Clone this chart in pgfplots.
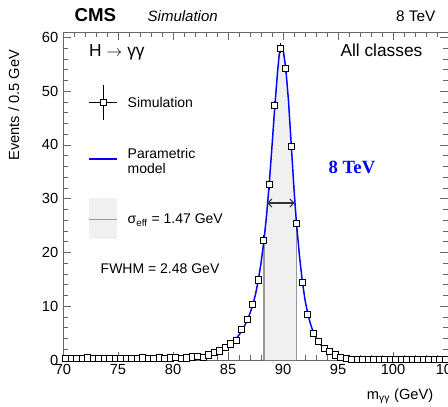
\documentclass[border=0pt]{standalone}
\usepackage{fontspec}
\setmainfont{Liberation Sans}
\newfontfamily\serifbf{Liberation Serif}
\usepackage{pgfplots}
\usepackage{pgfplotstable}
\pgfplotsset{compat=1.18}
\usetikzlibrary{arrows.meta}

% simulated events per 0.5 GeV bin
\pgfplotstableread{
x y ex ey
70.25 0.35 0.25 0.3
70.75 0.30 0.25 0.3
71.25 0.35 0.25 0.3
71.75 0.30 0.25 0.3
72.25 0.40 0.25 0.3
72.75 0.30 0.25 0.3
73.25 0.35 0.25 0.3
73.75 0.30 0.25 0.3
74.25 0.35 0.25 0.3
74.75 0.30 0.25 0.3
75.25 0.30 0.25 0.3
75.75 0.35 0.25 0.3
76.25 0.30 0.25 0.3
76.75 0.35 0.25 0.3
77.25 0.40 0.25 0.3
77.75 0.35 0.25 0.3
78.25 0.30 0.25 0.3
78.75 0.40 0.25 0.3
79.25 0.35 0.25 0.3
79.75 0.40 0.25 0.3
80.25 0.45 0.25 0.3
80.75 0.35 0.25 0.3
81.25 0.40 0.25 0.3
81.75 0.60 0.25 0.3
82.25 0.75 0.25 0.3
82.75 0.55 0.25 0.3
83.25 0.95 0.25 0.3
83.75 1.35 0.25 0.4
84.25 1.70 0.25 0.4
84.75 2.40 0.25 0.4
85.25 3.00 0.25 0.4
85.75 3.70 0.25 0.4
86.25 5.70 0.25 0.6
86.75 7.60 0.25 0.6
87.25 10.3 0.25 0.6
87.75 14.9 0.25 0.6
88.25 22.3 0.25 0.9
88.75 32.6 0.25 0.9
89.25 47.3 0.25 0.9
89.75 58.0 0.25 0.9
90.25 54.2 0.25 0.9
90.75 39.7 0.25 0.9
91.25 25.4 0.25 0.9
91.75 14.5 0.25 0.6
92.25 8.50 0.25 0.6
92.75 5.00 0.25 0.6
93.25 3.50 0.25 0.4
93.75 2.20 0.25 0.4
94.25 1.55 0.25 0.4
94.75 0.95 0.25 0.3
95.25 0.45 0.25 0.3
95.75 0.30 0.25 0.3
96.25 0.20 0.25 0.3
96.75 0.15 0.25 0.3
97.25 0.15 0.25 0.3
97.75 0.12 0.25 0.3
98.25 0.15 0.25 0.3
98.75 0.12 0.25 0.3
99.25 0.10 0.25 0.3
99.75 0.12 0.25 0.3
100.25 0.10 0.25 0.3
100.75 0.12 0.25 0.3
101.25 0.10 0.25 0.3
101.75 0.10 0.25 0.3
102.25 0.12 0.25 0.3
102.75 0.10 0.25 0.3
103.25 0.10 0.25 0.3
103.75 0.12 0.25 0.3
104.25 0.10 0.25 0.3
104.75 0.10 0.25 0.3
}\simdata

% parametric model
\pgfplotstableread{
x y
70 0.25
72 0.26
74 0.27
76 0.29
78 0.32
79 0.34
80 0.38
81 0.45
81.5 0.52
82 0.60
82.5 0.72
83 0.90
83.5 1.15
84 1.45
84.25 1.70
84.5 1.95
84.75 2.25
85 2.60
85.25 3.00
85.5 3.45
85.75 4.00
86 4.65
86.25 5.40
86.5 6.30
86.75 7.40
87 8.70
87.25 10.2
87.5 12.2
87.75 14.8
88 18.0
88.27 22.3
88.5 26.8
88.75 32.8
89 39.8
89.25 47.0
89.5 53.5
89.65 56.7
89.75 57.9
89.85 58.3
89.95 58.0
90.05 57.2
90.25 54.3
90.5 48.2
90.75 40.0
91 31.8
91.21 25.8
91.5 19.3
91.75 14.7
92 11.2
92.25 8.60
92.5 6.70
92.75 5.20
93 4.10
93.25 3.30
93.5 2.70
93.75 2.20
94 1.80
94.25 1.50
94.5 1.20
94.75 0.95
95 0.72
95.25 0.54
95.5 0.42
95.75 0.33
96 0.27
96.5 0.20
97 0.16
98 0.13
100 0.11
102 0.10
105 0.09
}\model

% sigma_eff window under the curve
\pgfplotstableread{
x y
88.27 0
88.27 22.3
88.5 26.8
88.75 32.8
89 39.8
89.25 47.0
89.5 53.5
89.65 56.7
89.75 57.9
89.85 58.3
89.95 58.0
90.05 57.2
90.25 54.3
90.5 48.2
90.75 40.0
91 31.8
91.21 25.8
91.21 0
}\band

\begin{document}
\begin{tikzpicture}
  \begin{axis}[
    name=ax,
    scale only axis,
    width=288.75pt, height=246pt,
    xmin=70, xmax=105,
    ymin=0, ymax=61,
    xtick={70,75,...,105},
    ytick={0,10,...,60},
    minor x tick num=4,
    minor y tick num=4,
    tick align=inside,
    major tick length=6pt,
    minor tick length=3.4pt,
    axis line style={black!60},
    every tick/.style={black!60},
    ticklabel style={font=\fontsize{11}{13}\selectfont},
    /pgf/number format/assume math mode=true,
    clip=false,
  ]
    % sigma_eff band
    \addplot[fill=black!6, draw=none] table {\band} \closedcycle;
    \addplot[black!40, thick] coordinates {(88.27,0) (88.27,22.3)};
    \addplot[black!40, thick] coordinates {(91.21,0) (91.21,25.8)};

    % simulation points
    \addplot[
      only marks, black,
      mark=square*, mark size=2.3pt,
      mark options={fill=white, draw=black, line width=0.5pt},
      error bars/.cd,
        x dir=both, x explicit,
        y dir=both, y explicit,
        error mark=none,
        error bar style={line width=0.5pt},
    ] table[x=x, y=y, x error=ex, y error=ey] {\simdata};

    % parametric model
    \addplot[blue, line width=1.1pt] table {\model};

    % FWHM arrow
    \draw[black!80, thick, {Straight Barb[length=3pt,width=6pt]}-{Straight Barb[length=3pt,width=6pt]}]
      (axis cs:88.55,29.2) -- (axis cs:91.05,29.2);

    % legend
    \addplot[
      only marks, black,
      mark=square*, mark size=2.3pt,
      mark options={fill=white, draw=black, line width=0.5pt},
      error bars/.cd,
        x dir=both, x fixed=1.27,
        y dir=both, y fixed=3.25,
        error mark=none,
        error bar style={line width=0.5pt},
    ] coordinates {(73.64,47.93)};
    \node[anchor=west, font=\fontsize{10.5}{12}\selectfont] at (axis cs:75.45,47.93) {Simulation};

    \draw[blue, line width=1.1pt] (axis cs:72.36,37.34) -- (axis cs:74.91,37.34);
    \node[anchor=west, align=left, font=\fontsize{10.5}{11.25}\selectfont] at (axis cs:75.45,37.0) {Parametric\\model};

    \fill[black!6] (axis cs:72.36,22.48) rectangle (axis cs:74.91,30.09);
    \draw[black!40, thick] (axis cs:72.36,26.19) -- (axis cs:74.91,26.19);
    \node[anchor=west, font=\fontsize{10.5}{12}\selectfont] at (axis cs:75.45,26.0) {σ\textsubscript{eff} = 1.47 GeV};

    \node[anchor=west, font=\fontsize{10.5}{12}\selectfont] at (axis cs:73.0,16.9) {FWHM = 2.48 GeV};

    \node[anchor=base west, font=\fontsize{13}{15}\selectfont] at (axis cs:71.95,56.4) {H \ensuremath{\rightarrow} γγ};
    \node[anchor=base east, font=\fontsize{13}{15}\selectfont] at (axis cs:103.1,56.4) {All classes};
    \node[font=\serifbf\bfseries\fontsize{14}{16}\selectfont, text=blue] at (axis cs:96.27,35.9) {8 TeV};
  \end{axis}

  % header and axis titles
  \node[anchor=base west, font=\bfseries\fontsize{14}{16}\selectfont] at ([xshift=5.25pt, yshift=7.5pt]ax.north west) {CMS};
  \node[anchor=base west, font=\itshape\fontsize{11.25}{13}\selectfont] at ([xshift=60pt, yshift=7.5pt]ax.north west) {Simulation};
  \node[anchor=base east, font=\fontsize{11.5}{13}\selectfont] at ([xshift=-6pt, yshift=7.5pt]ax.north east) {8 TeV};
  \node[anchor=east, rotate=90, font=\fontsize{11}{13}\selectfont] at ([xshift=-36.75pt, yshift=-9.75pt]ax.north west) {Events / 0.5 GeV};
  \node[anchor=east, font=\fontsize{11}{13}\selectfont] at ([xshift=-7.5pt, yshift=-27pt]ax.south east) {m\textsubscript{γγ} (GeV)};

  \pgfresetboundingbox
  \path[use as bounding box] ([xshift=-47.25pt, yshift=-34.5pt]ax.south west) rectangle ([yshift=24pt]ax.north east);
\end{tikzpicture}
\end{document}
